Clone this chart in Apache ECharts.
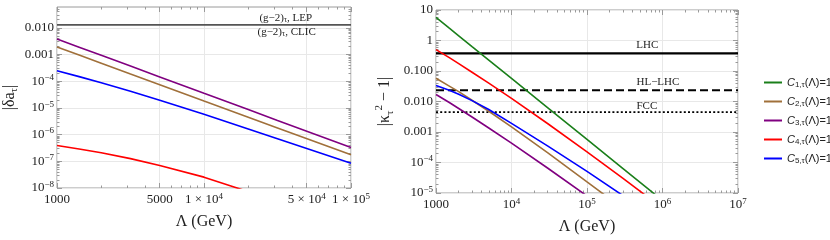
<!DOCTYPE html>
<html><head><meta charset="utf-8">
<script src="https://cdn.jsdelivr.net/npm/echarts@6/dist/echarts.min.js"></script>
<style>html,body{margin:0;padding:0;background:#fff}#c{width:830px;height:240px}</style>
</head><body><div id="c"></div>
<script>
// ---------- data ----------
const lambdaL = [1000, 1414, 2000, 3162, 5000, 10000, 20000, 31623, 100000];
const dA_C2 = [1.9e-3, 9.5e-4, 4.7e-4, 1.86e-4, 7.4e-5, 1.8e-5, 4.5e-6, 1.78e-6, 1.74e-7];
const dA_C3 = [3.8e-3, 1.88e-3, 9.3e-4, 3.67e-4, 1.45e-4, 3.5e-5, 8.7e-6, 3.4e-6, 3.3e-7];
const dA_C4 = [3.9e-7, 2.9e-7, 2.09e-7, 1.26e-7, 6.95e-8, 2.55e-8, 7.3e-9, 3.1e-9, 3.2e-10];
const dA_C5 = [2.45e-4, 1.48e-4, 8.7e-5, 4.19e-5, 1.94e-5, 5.73e-6, 1.62e-6, 6.98e-7, 8.4e-8];

const lambdaR = [1000, 1500, 2000, 3000, 5000, 10000, 30000, 100000, 300000, 1000000];
const k_C1 = [5.7, 2.53, 1.43, 0.63, 0.228, 0.057, 6.3e-3, 5.7e-4, 6.3e-5, 5.7e-6];
const k_C2 = [0.058, 0.032, 0.021, 0.011, 4.8e-3, 1.48e-3, 2.1e-4, 2.3e-5, 3.1e-6, 3.3e-7];
const k_C3 = [0.017, 9.3e-3, 5.9e-3, 3.1e-3, 1.35e-3, 4.3e-4, 6.6e-5, 8e-6, 1.1e-6, 1.3e-7];
const k_C4 = [0.50, 0.275, 0.174, 0.091, 0.040, 0.0126, 1.9e-3, 2.24e-4, 3.0e-5, 3.2e-6];
const k_C5 = [0.0334, 0.0232, 0.0172, 0.0107, 5.45e-3, 1.92e-3, 3.5e-4, 5.1e-5, 8.2e-6, 1.06e-6];

const gm2Value = 0.0129;
const gm2Labels = ['LEP', 'CLIC'];
const colliderNames = ['LHC', 'HL−LHC', 'FCC'];
const colliderValues = [0.38, 0.0234, 0.0045];

const seriesNames = ['C1', 'C2', 'C3', 'C4', 'C5'];

const leftXTicks = [1000, 5000, 10000, 50000, 100000];
const leftXLabels = ['1000', '5000', '{b|1 × 10}{s|4}', '{b|5 × 10}{s|4}', '{b|1 × 10}{s|5}'];
const leftYTicks = [1e-8, 1e-7, 1e-6, 1e-5, 1e-4, 1e-3, 1e-2];
const leftYLabels = ['{b|10}{s|−8}', '{b|10}{s|−7}', '{b|10}{s|−6}', '{b|10}{s|−5}', '{b|10}{s|−4}', '0.001', '0.010'];
const rightXTicks = [1e3, 1e4, 1e5, 1e6, 1e7];
const rightXLabels = ['1000', '{b|10}{s|4}', '{b|10}{s|5}', '{b|10}{s|6}', '{b|10}{s|7}'];
const rightYTicks = [1e-5, 1e-4, 1e-3, 1e-2, 1e-1, 1, 10];
const rightYLabels = ['{b|10}{s|−5}', '{b|10}{s|−4}', '0.001', '0.010', '0.100', '1', '10'];

// ---------- style ----------
const SERIF = "'Liberation Serif','DejaVu Serif',serif";
const SANS = "'Liberation Sans',Arial,sans-serif";
const colors = ['#1a7f1a', '#a0703a', '#800080', '#ff0000', '#0000ff'];
const TICK = '#9a9a9a', GRIDC = '#e8e8e8', TXT = '#222';
const rich = {
  b: {fontSize: 13, fontFamily: SERIF, color: TXT, lineHeight: 16},
  s: {fontSize: 9, fontFamily: SERIF, color: TXT, lineHeight: 9, verticalAlign: 'top'}
};

function minorVals(lo, hi, skip) {
  const out = [];
  for (let e = Math.floor(Math.log10(lo)); e <= Math.ceil(Math.log10(hi)); e++)
    for (let m = 2; m <= 9; m++) {
      const v = m * Math.pow(10, e);
      if (v > lo * 1.0001 && v < hi * 0.9999 && !(skip || []).some(s => Math.abs(s - v) / v < 1e-6)) out.push(v);
    }
  return out;
}
function nearestLabel(v, ticks, labels) {
  let bi = 0, bd = Infinity;
  ticks.forEach((t, i) => { const d = Math.abs(Math.log10(v) - Math.log10(t)); if (d < bd) { bd = d; bi = i; } });
  return labels[bi];
}
function ax(grid, pos, min, max, vals, len, label, split, name) {
  const o = {
    type: 'log', logBase: 10, gridIndex: grid, position: pos, min: min, max: max,
    axisLine: {show: false},
    axisTick: {show: true, inside: true, length: len, customValues: vals, lineStyle: {color: TICK, width: 1}},
    axisLabel: {show: false},
    splitLine: {show: !!split, lineStyle: {color: GRIDC, width: 1}}
  };
  if (label) {
    o.axisLabel = {
      show: true, customValues: label.ticks, margin: label.margin,
      fontFamily: SERIF, fontSize: 13, color: TXT, lineHeight: 16, rich: rich,
      formatter: v => nearestLabel(v, label.ticks, label.labels)
    };
  }
  if (name) Object.assign(o, name);
  return o;
}

const xMinL = 1000, xMaxL = 100000, yMinL = 1e-8, yMaxL = 0.06;
const xMinR = 1000, xMaxR = 1e7, yMinR = 1e-5, yMaxR = 10;

const xAxis = [
  ax(0, 'bottom', xMinL, xMaxL, leftXTicks, 5, {ticks: leftXTicks, labels: leftXLabels, margin: 4}, true,
     {name: 'Λ (GeV)', nameLocation: 'middle', nameGap: 26, nameTextStyle: {fontFamily: SERIF, fontSize: 16, color: TXT}}),
  ax(0, 'bottom', xMinL, xMaxL, minorVals(xMinL, xMaxL, leftXTicks), 2.5),
  ax(0, 'top', xMinL, xMaxL, leftXTicks, 5),
  ax(0, 'top', xMinL, xMaxL, minorVals(xMinL, xMaxL, leftXTicks), 2.5),
  ax(1, 'bottom', xMinR, xMaxR, rightXTicks, 5, {ticks: rightXTicks, labels: rightXLabels, margin: 4}, true,
     {name: 'Λ (GeV)', nameLocation: 'middle', nameGap: 26, nameTextStyle: {fontFamily: SERIF, fontSize: 16, color: TXT}}),
  ax(1, 'bottom', xMinR, xMaxR, minorVals(xMinR, xMaxR), 2.5),
  ax(1, 'top', xMinR, xMaxR, rightXTicks, 5),
  ax(1, 'top', xMinR, xMaxR, minorVals(xMinR, xMaxR), 2.5)
];
const yAxis = [
  ax(0, 'left', yMinL, yMaxL, leftYTicks, 5, {ticks: leftYTicks, labels: leftYLabels, margin: 3}, true,
     {name: '{t||δa}{u|τ}{t||}', nameLocation: 'middle', nameGap: 37, nameRotate: 90,
      nameTextStyle: {fontFamily: SERIF, fontSize: 16, color: TXT, rich: {
        t: {fontFamily: SERIF, fontSize: 16, color: TXT, lineHeight: 20},
        u: {fontFamily: SERIF, fontSize: 11, color: TXT, lineHeight: 11, verticalAlign: 'bottom'}}}}),
  ax(0, 'left', yMinL, yMaxL, minorVals(yMinL, yMaxL, leftYTicks), 2.5),
  ax(0, 'right', yMinL, yMaxL, leftYTicks, 5),
  ax(0, 'right', yMinL, yMaxL, minorVals(yMinL, yMaxL, leftYTicks), 2.5),
  ax(1, 'left', yMinR, yMaxR, rightYTicks, 5, {ticks: rightYTicks, labels: rightYLabels, margin: 3}, true,
     {name: '{t||κ}{u|τ}{p|2}{t| − 1|}', nameLocation: 'middle', nameGap: 40, nameRotate: 90,
      nameTextStyle: {fontFamily: SERIF, fontSize: 16, color: TXT, rich: {
        t: {fontFamily: SERIF, fontSize: 16, color: TXT, lineHeight: 22},
        u: {fontFamily: SERIF, fontSize: 11, color: TXT, lineHeight: 11, verticalAlign: 'bottom'},
        p: {fontFamily: SERIF, fontSize: 11, color: TXT, lineHeight: 11, verticalAlign: 'top'}}}}),
  ax(1, 'left', yMinR, yMaxR, minorVals(yMinR, yMaxR, rightYTicks), 2.5),
  ax(1, 'right', yMinR, yMaxR, rightYTicks, 5),
  ax(1, 'right', yMinR, yMaxR, minorVals(yMinR, yMaxR, rightYTicks), 2.5)
];

function curve(name, xs, ys, color, xi, yi) {
  return {
    name: name, type: 'line', xAxisIndex: xi, yAxisIndex: yi, data: xs.map((x, i) => [x, ys[i]]),
    symbol: 'none', showSymbol: false, clip: true, silent: true, animation: false,
    lineStyle: {color: color, width: 1.6}, itemStyle: {color: color}
  };
}
const labRich = {
  n: {fontFamily: SERIF, fontSize: 11, color: TXT},
  u: {fontFamily: SERIF, fontSize: 8, color: TXT, verticalAlign: 'bottom', lineHeight: 8}
};

const series = [];
// left panel
series.push({
  type: 'line', xAxisIndex: 0, yAxisIndex: 0, silent: true, animation: false, symbol: 'none',
  data: [[xMinL, gm2Value], [xMaxL, gm2Value]], lineStyle: {color: '#555', width: 1.8},
  markPoint: {
    symbol: 'circle', symbolSize: 0, silent: true, animation: false,
    data: [
      {coord: [36000, gm2Value], label: {show: true, position: 'top', distance: 1, rich: labRich, formatter: '{n|(g−2)}{u|τ}{n|, ' + gm2Labels[0] + '}'}},
      {coord: [36500, gm2Value], label: {show: true, position: 'bottom', distance: 2, rich: labRich, formatter: '{n|(g−2)}{u|τ}{n|, ' + gm2Labels[1] + '}'}}
    ]
  }
});
series.push(curve('C2', lambdaL, dA_C2, colors[1], 0, 0));
series.push(curve('C3', lambdaL, dA_C3, colors[2], 0, 0));
series.push(curve('C4', lambdaL, dA_C4, colors[3], 0, 0));
series.push(curve('C5', lambdaL, dA_C5, colors[4], 0, 0));
// right panel
const dashStyles = ['solid', [8, 4], [2, 2.2]];
const labelX = [6.3e5, 8.7e5, 6.2e5];
colliderValues.forEach((v, i) => {
  series.push({
    type: 'line', xAxisIndex: 4, yAxisIndex: 4, silent: true, animation: false, symbol: 'none',
    data: [[xMinR, v], [xMaxR, v]], lineStyle: {color: '#000', width: i === 0 ? 2.2 : 1.8, type: dashStyles[i]},
    markPoint: {
      symbol: 'circle', symbolSize: 0, silent: true, animation: false,
      data: [{coord: [labelX[i], v], label: {show: true, position: 'top', distance: i === 2 ? 0 : 3,
        formatter: colliderNames[i], fontFamily: SERIF, fontSize: 11, color: TXT}}]
    }
  });
});
series.push(curve('C1', lambdaR, k_C1, colors[0], 4, 4));
series.push(curve('C2', lambdaR, k_C2, colors[1], 4, 4));
series.push(curve('C3', lambdaR, k_C3, colors[2], 4, 4));
series.push(curve('C4', lambdaR, k_C4, colors[3], 4, 4));
series.push(curve('C5', lambdaR, k_C5, colors[4], 4, 4));

const chart = echarts.init(document.getElementById('c'), null, {renderer: 'canvas'});
chart.setOption({
  backgroundColor: '#fff',
  animation: false,
  grid: [
    {left: 57, top: 7, width: 294, height: 181, show: true, borderColor: TICK, borderWidth: 1, backgroundColor: 'transparent'},
    {left: 436, top: 10, width: 302, height: 184, show: true, borderColor: TICK, borderWidth: 1, backgroundColor: 'transparent'}
  ],
  legend: {
    data: seriesNames.map(n => ({name: n, icon: 'rect'})), orient: 'vertical', left: 759, top: 72,
    itemWidth: 18, itemHeight: 2, itemGap: 7,
    selectedMode: false,
    textStyle: {fontFamily: SANS, fontSize: 11, color: '#222', rich: {
      c: {fontFamily: SANS, fontSize: 11, fontStyle: 'italic', color: '#222', lineHeight: 13},
      s: {fontFamily: SANS, fontSize: 8, color: '#222', lineHeight: 8, verticalAlign: 'bottom'},
      r: {fontFamily: SANS, fontSize: 11, color: '#222', lineHeight: 13}
    }},
    formatter: n => '{c|C}{s|' + n.slice(1) + ',τ}{r|(Λ)=1}'
  },
  xAxis: xAxis,
  yAxis: yAxis,
  series: series
});
</script>
</body></html>
